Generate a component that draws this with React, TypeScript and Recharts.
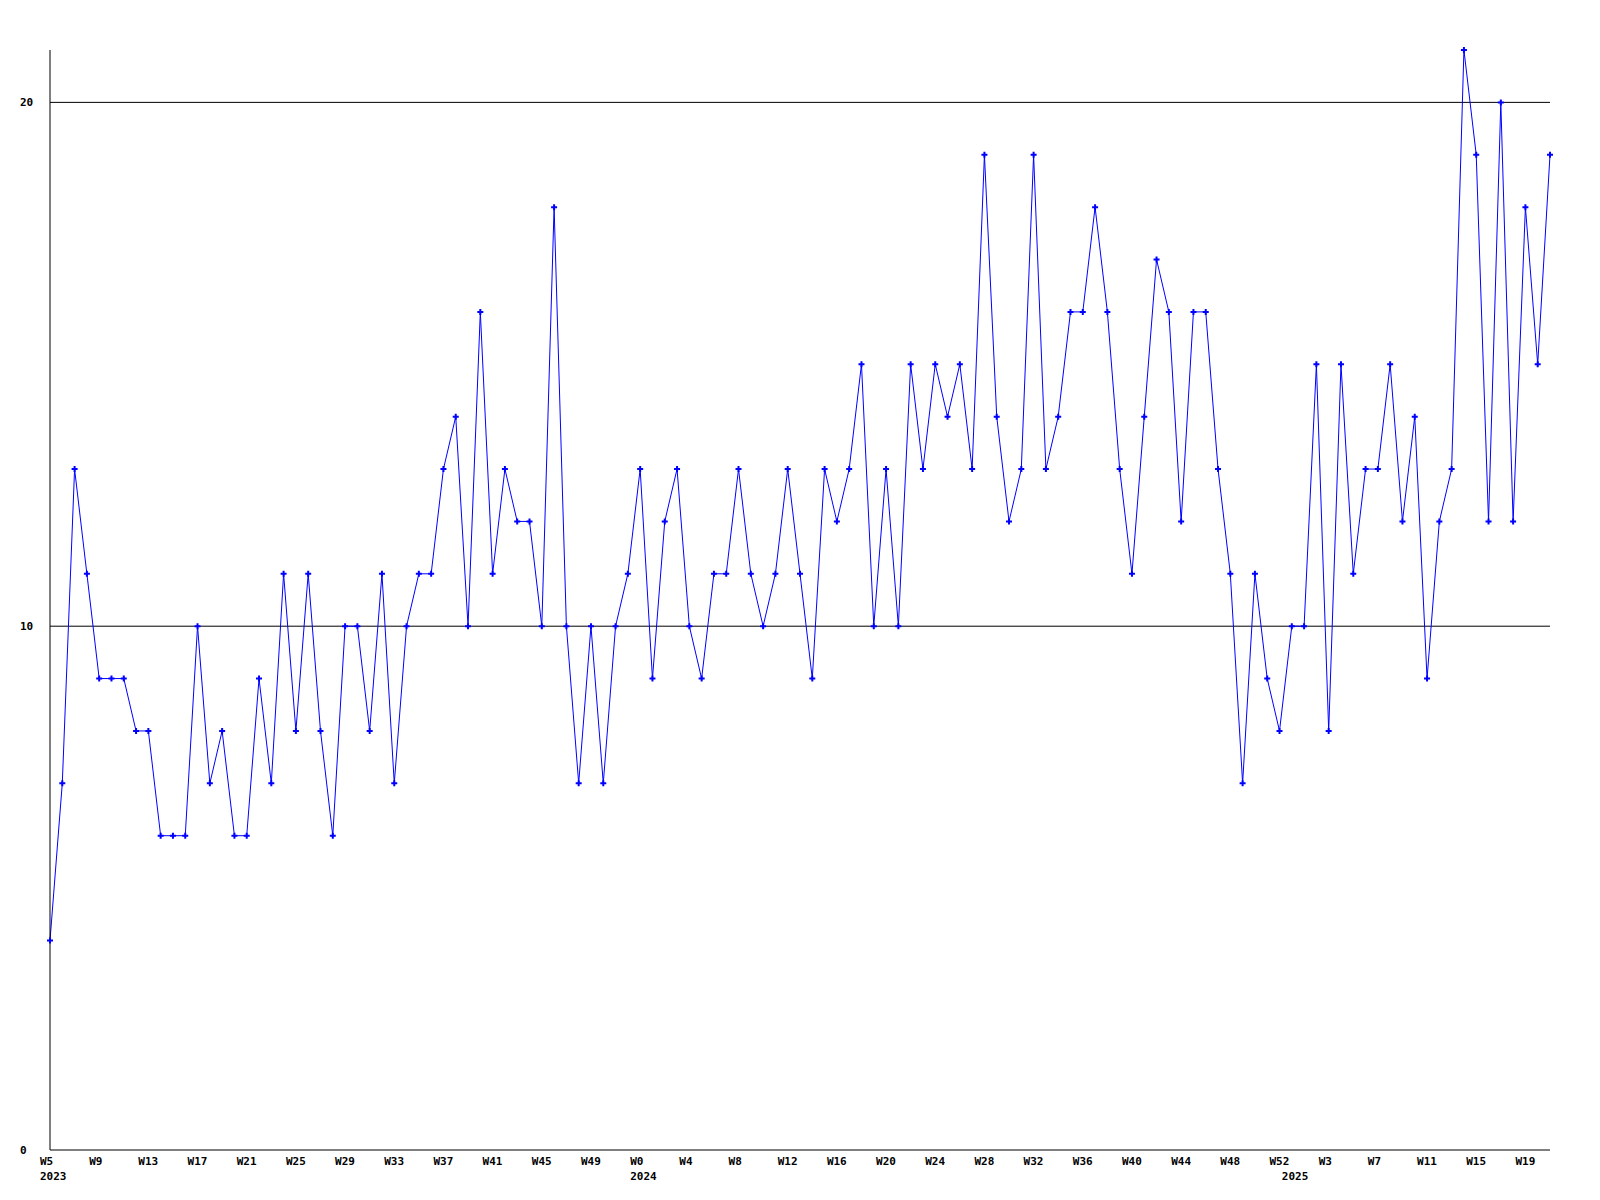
import React from 'react';
import { LineChart, Line, XAxis, YAxis, ReferenceLine } from 'recharts';

// ─── Data ──────────────────────────────────────────────────────────────────────
const WEEKS_2023 = [5, 6, 7, 8, 9, 10, 11, 12, 13, 14, 15, 16, 17, 18, 19, 20, 21, 22, 23, 24, 25, 26, 27, 28,
    29, 30, 31, 32, 33, 34, 35, 36, 37, 38, 39, 40, 41, 42, 43, 44, 45, 46, 47, 48, 49, 50, 51, 52];
const WEEKS_2024 = [0, 1, 2, 3, 4, 5, 6, 7, 8, 9, 10, 11, 12, 13, 14, 15, 16, 17, 18, 19, 20, 21, 22, 23, 24, 25, 26,
    27, 28, 29, 30, 31, 32, 33, 34, 35, 36, 37, 38, 39, 40, 41, 42, 43, 44, 45, 46, 47, 48, 49, 50, 51, 52];
const WEEKS_2025 = [0, 1, 2, 3, 4, 5, 6, 7, 8, 9, 10, 11, 12, 13, 14, 15, 16, 17, 18, 19, 20, 21];

const VALUES_2023 = [4, 7, 13, 11, 9, 9, 9, 8, 8, 6, 6, 6, 10, 7, 8, 6, 6, 9, 7, 11, 8, 11, 8, 6,
    10, 10, 8, 11, 7, 10, 11, 11, 13, 14, 10, 16, 11, 13, 12, 12, 10, 18, 10, 7, 10, 7, 10, 11];
const VALUES_2024 = [13, 9, 12, 13, 10, 9, 11, 11, 13, 11, 10, 11, 13, 11, 9, 13, 12, 13, 15, 10, 13, 10, 15, 13, 15, 14,
    15, 13, 19, 14, 12, 13, 19, 13, 14, 16, 16, 18, 16, 13, 11, 14, 17, 16, 12, 16, 16, 13, 11, 7, 11, 9, 8];
const VALUES_2025 = [10, 10, 15, 8, 15, 11, 13, 13, 15, 12, 14, 9, 12, 13, 21, 19, 12, 20, 12, 18, 15, 19];

const Y_TICKS = [0, 10, 20];
const GRID_LINES = [10, 20];
const FONT = '"DejaVu Sans Mono", monospace';

const data = [
    ...WEEKS_2023.map((w, i) => ({ week: `W${w}`, year: i === 0 ? '2023' : '', value: VALUES_2023[i] })),
    ...WEEKS_2024.map((w, i) => ({ week: `W${w}`, year: i === 0 ? '2024' : '', value: VALUES_2024[i] })),
    ...WEEKS_2025.map((w, i) => ({ week: `W${w}`, year: i === 0 ? '2025' : '', value: VALUES_2025[i] })),
];

if (typeof document !== 'undefined') document.body.style.margin = '0';

// ─── Ticks / markers ───────────────────────────────────────────────────────────
const WeekTick = ({ x, y, payload, index }: any) => {
    const i = payload?.index ?? index;
    const row = data[i];
    return (
        <g>
            {i % 4 === 0 && (
                <text x={x - 10} y={y + 3} fontFamily={FONT} fontWeight="bold" fontSize={11}
                    fill="#000" textAnchor="start" dominantBaseline="central">{row.week}</text>
            )}
            {row.year && (
                <text x={x - 10} y={y + 18} fontFamily={FONT} fontWeight="bold" fontSize={11}
                    fill="#000" textAnchor="start" dominantBaseline="central">{row.year}</text>
            )}
        </g>
    );
};

const ValueTick = ({ y, payload }: any) => (
    <text x={20} y={y} fontFamily={FONT} fontWeight="bold" fontSize={11} fill="#000"
        textAnchor="start" dominantBaseline="central">{payload.value}</text>
);

const PlusDot = ({ cx, cy }: any) => {
    if (cx == null || cy == null) return null;
    return (
        <path d={`M${cx - 3},${cy}H${cx + 3}M${cx},${cy - 3}V${cy + 3}`} stroke="#0000ff" strokeWidth={2} fill="none" />
    );
};

// ─── Chart ─────────────────────────────────────────────────────────────────────
export default function App() {
    return (
        <LineChart width={1600} height={1200} data={data} margin={{ top: 50, right: 50, bottom: 0, left: 0 }}>
            <XAxis dataKey="week" interval={0} tick={<WeekTick />} tickLine={false} height={50}
                axisLine={{ stroke: '#000', strokeWidth: 1 }} />
            <YAxis type="number" domain={[0, 21]} ticks={Y_TICKS} width={50} tick={<ValueTick />} tickLine={false}
                axisLine={{ stroke: '#000', strokeWidth: 1 }} />
            {GRID_LINES.map(v => <ReferenceLine key={v} y={v} stroke="#000" strokeWidth={1} />)}
            <Line type="linear" dataKey="value" stroke="#0000ff" strokeWidth={1} dot={<PlusDot />}
                activeDot={false} isAnimationActive={false} />
        </LineChart>
    );
}
